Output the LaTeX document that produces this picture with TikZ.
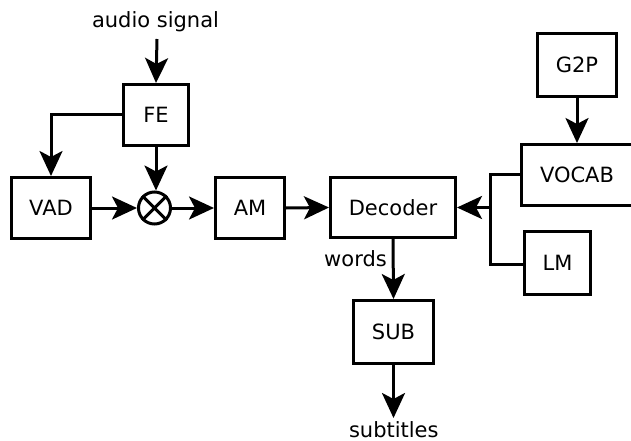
\documentclass[tikz,border=0pt]{standalone}
\usepackage{fontspec}
\setmainfont{DejaVu Sans}
\usetikzlibrary{arrows.meta,calc}
\begin{document}
\begin{tikzpicture}[x=1pt,y=-1pt,
  every node/.style={font=\fontsize{21}{25}\selectfont},
  blk/.style={draw,line width=3pt,inner sep=0pt,rectangle},
  conn/.style={line width=3pt},
  arr/.style={conn,-{Stealth[length=25pt,width=23pt,inset=6pt]}},
  lbl/.style={inner sep=0pt,anchor=base}]
\useasboundingbox (0,0) rectangle (631,441);
\clip (0,0) rectangle (631,441);
% blocks
\node[blk,minimum width=65pt,minimum height=61pt] (FE) at (156,115) {FE};
\node[blk,minimum width=79pt,minimum height=61pt] (VAD) at (51,208) {VAD};
\node[blk,minimum width=69pt,minimum height=61pt] (AM) at (250,208) {AM};
\node[blk,minimum width=125pt,minimum height=60pt] (DEC) at (393,207.5) {Decoder};
\node[blk,minimum width=79pt,minimum height=63pt] (G2P) at (577,65) {G2P};
\node[blk,minimum width=111pt,minimum height=61pt] (VOC) at (577,175) {VOCAB};
\node[blk,minimum width=66pt,minimum height=63pt] (LM) at (557.5,263) {LM};
\node[blk,minimum width=80pt,minimum height=63pt] (SUB) at (393.5,332) {SUB};
\node[draw,circle,line width=3pt,minimum size=32pt,inner sep=0pt] (MUL) at (154.5,208) {};
\draw[conn] (MUL.north west) -- (MUL.south east) (MUL.north east) -- (MUL.south west);
% texts
\node[lbl] (audio) at (155.5,28) {audio signal};
\node[lbl] (words) at (355.5,266) {words};
\node[lbl] (subt) at (393.8,437) {subtitles};
\coordinate (ain) at (157,39);
\coordinate (sout) at (393.5,418);
\coordinate (br) at (490,207.5);
% connectors
\draw[arr] (ain) -- (FE.north);
\draw[arr] (FE.west) -| (VAD.north);
\draw[arr] (FE.south) -- (FE.south |- MUL.north);
\draw[arr] (VAD.east) -- (MUL.west);
\draw[arr] (MUL.east) -- (AM.west);
\draw[arr] (AM.east) -- (DEC.west);
\draw[arr] (G2P.south) -- (VOC.north);
\draw[conn] ($(VOC.west)+(0,-1)$) -| (br) |- ($(LM.west)+(0,1)$);
\draw[arr] (br) -- (DEC.east);
\draw[arr] (DEC.south) -- (SUB.north);
\draw[arr] (SUB.south) -- (sout);
\end{tikzpicture}
\end{document}
